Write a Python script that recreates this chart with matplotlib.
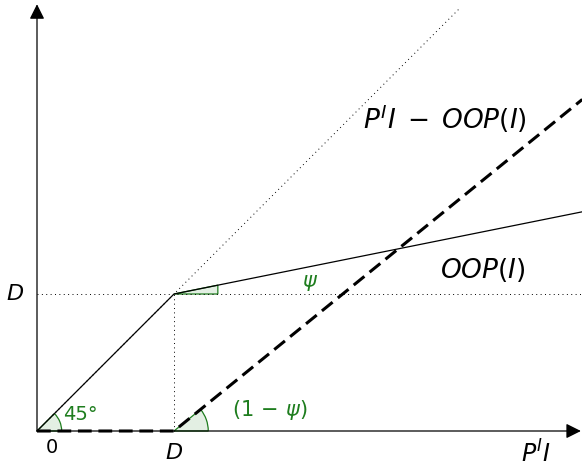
import numpy as np
import matplotlib.pyplot as plt
from matplotlib.patches import Wedge, Polygon

plt.rcParams['mathtext.fontset'] = 'dejavusans'
plt.rcParams['font.family'] = 'DejaVu Sans'

# Schematic values (D = 1, psi = 0.2)
D = 1.0
psi = 0.2
oop_x = [0.0, 1.0, 3.98]
oop_y = [0.0, 1.0, 1.60]
diff_x = [0.0, 1.0, 3.98]
diff_y = [0.0, 0.0, 2.42]
diag_x = [0.0, 3.08]
diag_y = [0.0, 3.08]

green = '#1e7d1e'
fill = '#e3efe3'

fig = plt.figure(figsize=(5.82, 4.65), dpi=100)
ax = fig.add_axes([0, 0, 1, 1])
ax.set_xlim(-37 / 137, (582 - 37) / 137)
ax.set_ylim((431 - 465) / 137, 431 / 137)
ax.axis('off')

# axes with arrows
ax.annotate('', xy=(3.97, 0), xytext=(0, 0),
            arrowprops=dict(arrowstyle='-|>,head_length=0.9,head_width=0.45',
                            color='black', lw=0.9, shrinkA=0, shrinkB=0))
ax.annotate('', xy=(0, 3.115), xytext=(0, 0),
            arrowprops=dict(arrowstyle='-|>,head_length=0.9,head_width=0.45',
                            color='black', lw=0.9, shrinkA=0, shrinkB=0))

# angle marks
ax.add_patch(Wedge((0, 0), 0.18, 0, 45, facecolor=fill, edgecolor=green, lw=0.9, zorder=2))
ang = np.degrees(np.arctan2(diff_y[2] - diff_y[1], diff_x[2] - diff_x[1]))
ax.add_patch(Wedge((1, 0), 0.25, 0, ang, facecolor=fill, edgecolor=green, lw=0.9, zorder=2))
pang = np.arctan2(oop_y[2] - oop_y[1], oop_x[2] - oop_x[1])
r = 0.32
ax.add_patch(Polygon([(1, 1), (1 + r, 1 + r * np.tan(pang)), (1 + r, 1)], closed=True,
                     facecolor=fill, edgecolor=green, lw=0.9, zorder=2))

# dotted guides
dot = (0, (1, 3.5))
ax.plot(diag_x, diag_y, color='black', lw=0.7, linestyle=dot)
ax.plot([0, 3.99], [D, D], color='black', lw=0.7, linestyle=dot)
ax.plot([D, D], [0, D], color='black', lw=0.7, linestyle=dot)

# lines
ax.plot(oop_x, oop_y, color='black', lw=0.9, zorder=3)
ax.plot(diff_x, diff_y, color='black', lw=2.2, dashes=(4.5, 2.2), zorder=4)

# labels
ax.text(2.98, 2.28, r'$P^I I\;-\;OOP(I)$', fontsize=19, ha='center', va='center')
ax.text(3.25, 1.175, r'$OOP(I)$', fontsize=19, ha='center', va='center')
ax.text(1.99, 1.08, r'$\psi$', fontsize=15, color=green, ha='center', va='center')
ax.text(1.70, 0.155, r'$(1\,-\,\psi)$', fontsize=15, color=green, ha='center', va='center')
ax.text(0.314, 0.117, '45°', fontsize=14, color=green, ha='center', va='center')
ax.text(0.11, -0.117, '0', fontsize=14, ha='center', va='center')
ax.text(1.0, -0.16, r'$D$', fontsize=16, ha='center', va='center')
ax.text(-0.16, 1.0, r'$D$', fontsize=16, ha='center', va='center')
ax.text(3.64, -0.07, r'$P^I I$', fontsize=17, ha='center', va='top')

fig.savefig('out.png', dpi=100)
